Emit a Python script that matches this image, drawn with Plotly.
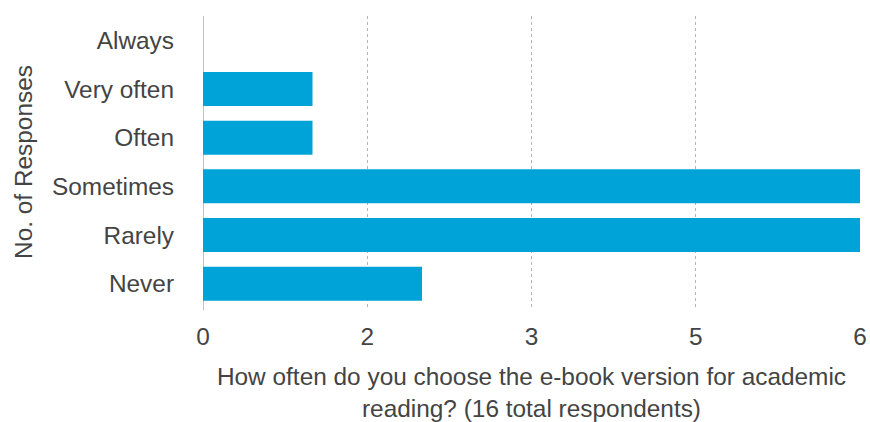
import plotly.graph_objects as go

categories = ["Always", "Very often", "Often", "Sometimes", "Rarely", "Never"]
responses = [0, 1, 1, 6, 6, 2]
tick_values = [0, 1.5, 3, 4.5, 6]
tick_labels = ["0", "2", "3", "5", "6"]

font_family = "Liberation Sans, Arial, sans-serif"
text_color = "#444444"
font_size = 24.4

fig = go.Figure(
    go.Bar(
        x=responses,
        y=categories,
        orientation="h",
        marker=dict(color="#00a3d8", line=dict(width=0)),
        hoverinfo="x+y",
    )
)

fig.update_layout(
    width=870,
    height=422,
    margin=dict(l=203, r=10, t=16, b=114, autoexpand=False),
    paper_bgcolor="white",
    plot_bgcolor="white",
    bargap=0.3,
    showlegend=False,
    font=dict(family=font_family, size=font_size, color=text_color),
    xaxis=dict(
        range=[0, 6],
        tickmode="array",
        tickvals=tick_values,
        ticktext=tick_labels,
        showgrid=True,
        gridcolor="#b5b5b5",
        griddash="dot",
        gridwidth=1,
        zeroline=False,
        showline=False,
        ticks="",
        ticklabelstandoff=12,
        automargin=False,
        tickfont=dict(size=font_size, color=text_color),
        title=dict(
            text="How often do you choose the e-book version for academic<br>reading? (16 total respondents)",
            font=dict(size=font_size, color=text_color),
            standoff=24,
        ),
        fixedrange=True,
    ),
    yaxis=dict(
        categoryorder="array",
        categoryarray=categories[::-1],
        showgrid=False,
        zeroline=False,
        showline=False,
        ticks="",
        ticklabelstandoff=28,
        automargin=False,
        tickfont=dict(size=font_size, color=text_color),
        title=dict(
            text="No. of Responses",
            font=dict(size=font_size, color=text_color),
            standoff=12,
        ),
        fixedrange=True,
    ),
)

# solid baseline at zero
fig.add_shape(
    type="line",
    xref="x",
    yref="paper",
    x0=0,
    x1=0,
    y0=-0.008,
    y1=1,
    line=dict(color="#c4c4c4", width=2),
    layer="below",
)

fig.write_html("out.html", config={"displayModeBar": False})
